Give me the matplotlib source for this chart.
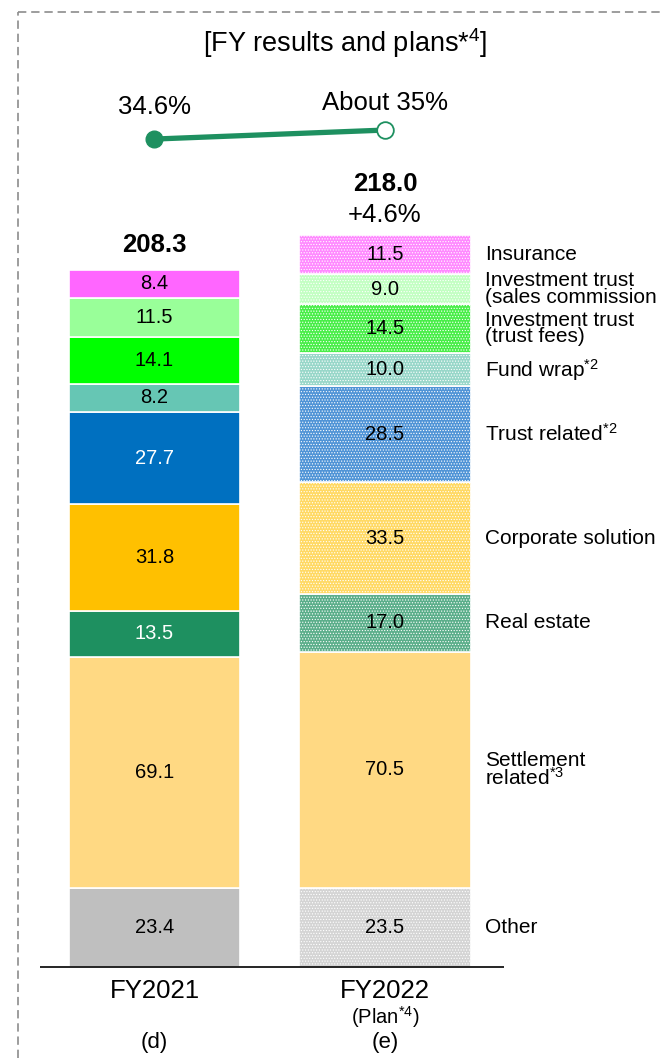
import matplotlib
matplotlib.use('Agg')
import matplotlib.pyplot as plt
import numpy as np
from matplotlib.lines import Line2D

plt.rcParams['font.family'] = ['Liberation Sans', 'DejaVu Sans']
plt.rcParams['mathtext.fontset'] = 'custom'
plt.rcParams['mathtext.rm'] = 'Liberation Sans'
plt.rcParams['mathtext.it'] = 'Liberation Sans:italic'
plt.rcParams['mathtext.bf'] = 'Liberation Sans:bold'
plt.rcParams['lines.scale_dashes'] = False
plt.rcParams['hatch.linewidth'] = 0.5

# ---------------- data ----------------
years = ['FY2021', 'FY2022']
year_plan = ['', '(Plan$^{*4}$)']
year_sub = ['(d)', '(e)']
segments = ['Other', 'Settlement\nrelated$^{*3}$', 'Real estate', 'Corporate solution',
            'Trust related$^{*2}$', 'Fund wrap$^{*2}$', 'Investment trust\n(trust fees)',
            'Investment trust\n(sales commission', 'Insurance']
fy2021 = [23.4, 69.1, 13.5, 31.8, 27.7, 8.2, 14.1, 11.5, 8.4]
fy2022 = [23.5, 70.5, 17.0, 33.5, 28.5, 10.0, 14.5, 9.0, 11.5]
totals = ['208.3', '218.0']
growth = '+4.6%'
ratio = [34.6, 35.0]
ratio_labels = ['34.6%', 'About 35%']
title = '[FY results and plans*$^{4}$]'

# ---------------- styles ----------------
colors21 = ['#BFBFBF', '#FFD983', '#1E9060', '#FFC000', '#0070C0', '#66C6B4',
            '#00FF00', '#99FF99', '#FF66FF']
colors22 = ['#D4D4D4', '#FFD983', '#5BAE8A', '#FFD964', '#5094D6', '#98D7C9',
            '#48EE48', '#C2FFC2', '#FF8AFF']
hatch22 = ['......', None, '......', '......', '......', '......', '......', '......', '......']
txtcol21 = ['black', 'black', 'white', 'black', 'white', 'black', 'black', 'black', 'black']

W, H = 660, 1058
fig = plt.figure(figsize=(W / 100, H / 100), dpi=100)
ax = fig.add_axes([0, 0, 1, 1])
ax.set_xlim(-0.670, 2.193)
ax.set_ylim(-27.1, 288.1)
ax.axis('off')

x = np.arange(len(years))
bw = 0.742

bottom = 0.0
for i, v in enumerate(fy2021):
    ax.bar(x[0], v, bw, bottom=bottom, color=colors21[i], edgecolor='white', linewidth=1.2)
    ax.text(x[0], bottom + v / 2, f'{v:.1f}', ha='center', va='center',
            fontsize=14.5, color=txtcol21[i])
    bottom += v
top21 = bottom

bottom = 0.0
for i, v in enumerate(fy2022):
    ax.bar(x[1], v, bw, bottom=bottom, color=colors22[i], edgecolor='white',
           linewidth=1.2, hatch=hatch22[i])
    ax.text(x[1], bottom + v / 2, f'{v:.1f}', ha='center', va='center',
            fontsize=14.5, color='black')
    ax.text(1.434, bottom + v / 2, segments[i], ha='left', va='center',
            fontsize=15, color='black', linespacing=0.85)
    bottom += v
top22 = bottom

# totals
ax.text(x[0], top21 + 5.3, totals[0], ha='center', va='baseline', fontsize=18.5,
        fontweight='bold')
ax.text(x[1], top22 + 13.2, totals[1], ha='center', va='baseline', fontsize=18.5,
        fontweight='bold')
ax.text(x[1], top22 + 3.9, growth, ha='center', va='baseline', fontsize=18.5)

# baseline
ax.plot([-0.497, 1.516], [0, 0], color='black', lw=1.2, solid_capstyle='butt')

# x labels
for i in range(2):
    ax.text(x[i], -3.6, years[i], ha='center', va='top', fontsize=18.5)
    ax.text(x[i], -19.4, year_sub[i], ha='center', va='top', fontsize=16)
ax.text(x[1], -11.0, year_plan[1], ha='center', va='top', fontsize=14.5)

# ratio line
ax2 = ax.twinx()
ax2.set_ylim(-6.24, 40.78)
ax2.axis('off')
ax2.plot(x, ratio, color='#1E9060', lw=3.8, solid_capstyle='butt', zorder=2)
ax2.plot(x[0], ratio[0], 'o', ms=12, color='#1E9060', zorder=3)
ax2.plot(x[1], ratio[1], 'o', ms=12, mfc='white', mec='#1E9060', mew=1.3, zorder=3)
ax2.annotate(ratio_labels[0], (x[0], ratio[0]), xytext=(0, 25), textcoords='offset pixels',
             ha='center', va='baseline', fontsize=18.5)
ax2.annotate(ratio_labels[1], (x[1], ratio[1]), xytext=(0, 20), textcoords='offset pixels',
             ha='center', va='baseline', fontsize=18.5)

# title
fig.text(345 / W, 1 - 52 / H, title, ha='center', va='baseline', fontsize=19.5)

# dashed frame
fy_top = 1 - 12 / H
fx_left = 18 / W
fig.add_artist(Line2D([fx_left, 1.0], [fy_top, fy_top], transform=fig.transFigure,
                      color='#8C8C8C', lw=1.2, dashes=(6, 3.5)))
fig.add_artist(Line2D([fx_left, fx_left], [0, fy_top], transform=fig.transFigure,
                      color='#8C8C8C', lw=1.2, dashes=(6, 3.5)))

fig.savefig('out.png', dpi=100)
